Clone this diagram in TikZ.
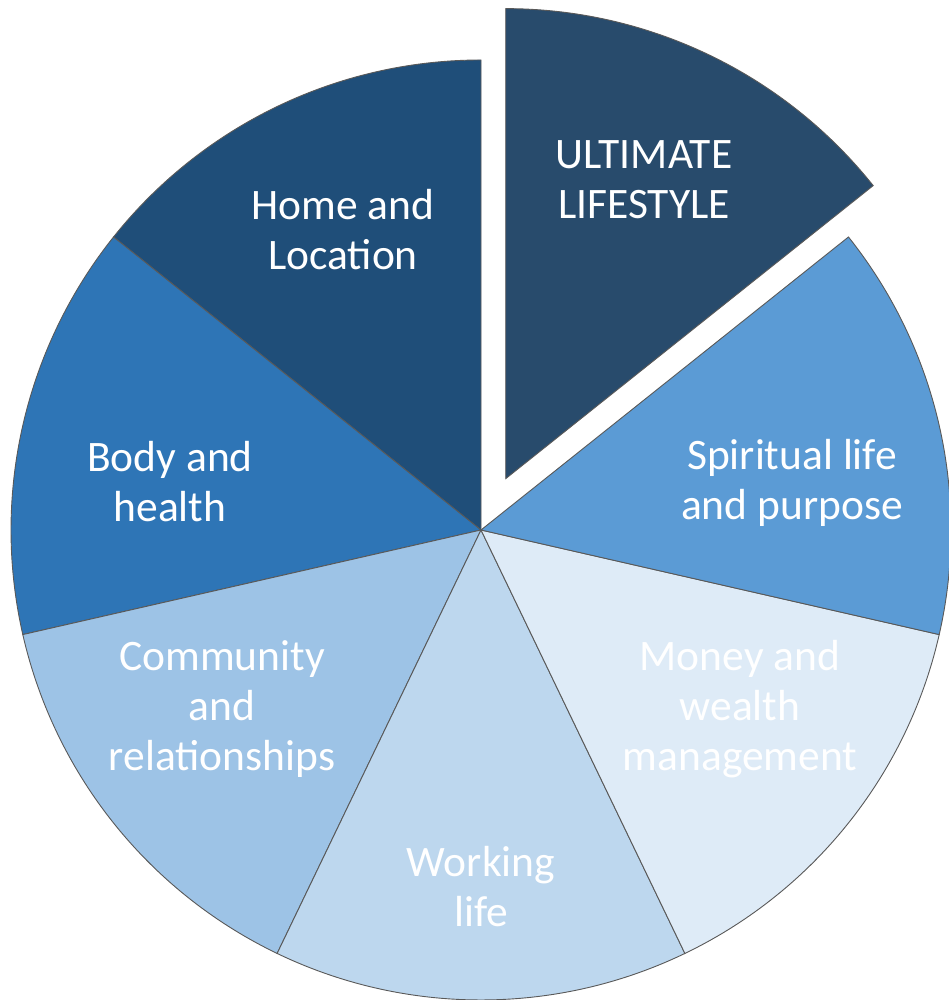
\documentclass[tikz,border=0pt]{standalone}
\usepackage{fontspec}
\setmainfont{Carlito}
\usetikzlibrary{calc}
\begin{document}
\begin{tikzpicture}[x=1pt,y=1pt,
  slice/.style={line width=0.9pt, draw=black!65, line join=miter},
  lbl/.style={text=white, align=center, inner sep=0pt,
    font=\fontsize{43.5}{50}\selectfont}]
\definecolor{cUlt}{HTML}{284B6C}
\definecolor{cHome}{HTML}{1F4E79}
\definecolor{cBody}{HTML}{2E75B6}
\definecolor{cSpir}{HTML}{5B9BD5}
\definecolor{cComm}{HTML}{9DC3E6}
\definecolor{cWork}{HTML}{BDD7EE}
\definecolor{cMoney}{HTML}{DEEBF7}
\useasboundingbox (0,0) rectangle (948,1000);
\coordinate (c) at (481,470);
\def\R{470}
% regular slices, 360/7 degrees each
\foreach \a/\b/\col in {90/141.43/cHome, 141.43/192.86/cBody, 192.86/244.29/cComm,
  244.29/295.71/cWork, 295.71/347.14/cMoney, -12.86/38.57/cSpir}{
  \filldraw[slice, fill=\col] (c) -- ++(\a:\R) arc[start angle=\a, end angle=\b, radius=\R] -- cycle;
}
% exploded slice
\coordinate (ce) at ($(c)+(64.29:57)$);
\filldraw[slice, fill=cUlt] (ce) -- ++(38.57:\R) arc[start angle=38.57, end angle=90, radius=\R] -- cycle;
% labels
\node[lbl] (ult) at (644,820) {ULTIMATE\\LIFESTYLE};
\node[lbl] (home) at (343,770) {Home and\\Location};
\node[lbl] (body) at (170,518) {Body and\\health};
\node[lbl] (spir) at (792,517) {Spiritual life\\and purpose};
\node[lbl] (comm) at (222,291) {Community\\and\\relationships};
\node[lbl] (money) at (740,291) {Money and\\wealth\\management};
\node[lbl] (work) at (481,113) {Working\\life};
\end{tikzpicture}
\end{document}
